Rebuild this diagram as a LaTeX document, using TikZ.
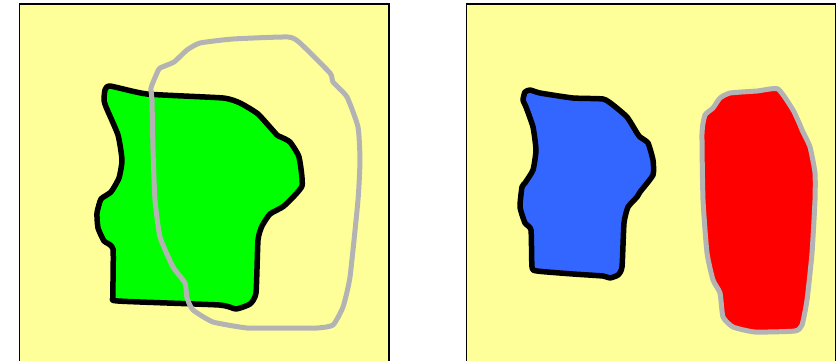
\documentclass[tikz,border=0pt]{standalone}
\usepackage{xcolor}
\usepackage{tikz}
\definecolor{paneyellow}{RGB}{255,255,153}
\definecolor{blobgreen}{RGB}{0,255,0}
\definecolor{blobblue}{RGB}{51,102,255}
\definecolor{blobred}{RGB}{255,0,0}
\definecolor{rimgrey}{RGB}{179,179,179}
\tikzset{
  panelbox/.style={draw=black, line width=1.5pt, fill=paneyellow},
  blackblob/.style={draw=black, line width=5.5pt, line join=round},
  greyblob/.style={draw=rimgrey, line width=5pt, line join=round},
  blobpath/.style={smooth cycle, tension=0.3}
}
\begin{document}
\begin{tikzpicture}[x=1pt, y=-1pt]
\useasboundingbox (0,0) rectangle (837,361);
\clip (0,0) rectangle (837,361);

% Panels
\draw[panelbox] (19.5,4) rectangle (389,370);
\draw[panelbox] (466.5,4) rectangle (835.5,370);

% Left panel: green region
\draw[blackblob, fill=blobgreen] plot[blobpath] coordinates {
  (104,100) (105,90) (110,86) (147,94) (223,98) (240,103) (258,114) (277,135)
  (281,137) (290,142) (299,157) (302,186) (284,206) (270,214) (262,226) (258,240)
  (256,293) (250,304) (236,309) (219,305) (118,301) (113,296) (113,249) (104,241)
  (98,228) (97,213) (101,199) (111,192) (119,178) (122,160) (118,135) (106,107)};

% Left panel: grey outline
\draw[greyblob] plot[blobpath] coordinates {
  (160,68) (174,62) (187,50) (200,43) (233,39) (288,37) (300,43) (330,73)
  (333,82) (347,97) (358,127) (360,160) (358,200) (350,277) (343,307) (333,325)
  (317,328) (277,328) (247,328) (213,322) (193,310) (187,298) (185,283) (173,267)
  (160,237) (155,200) (153,150) (152,100) (151,88) (157,73)};

% Right panel: blue region
\draw[blackblob, fill=blobblue] plot[blobpath] coordinates {
  (523,100) (525,92) (530,90) (540,93) (573,98) (603,99) (613,105) (627,117)
  (637,133) (640,137) (648,143) (653,160) (653,175) (640,192) (637,197) (628,207)
  (624,223) (622,267) (618,275) (610,278) (603,276) (573,274) (537,271) (532,267)
  (531,230) (525,223) (520,207) (522,187) (525,183) (533,170) (536,150) (533,127)
  (526,107)};

% Right panel: red region
\draw[greyblob, fill=blobred] plot[blobpath] coordinates {
  (778,89) (793,110) (800,125) (802,130) (810,147) (815,173) (815,200) (812,253)
  (807,300) (802,325) (795,331) (755,332) (733,327) (723,317) (720,293) (713,280)
  (707,253) (703,200) (702,133) (705,115) (713,108) (720,98) (730,93) (757,91)};

\end{tikzpicture}
\end{document}
